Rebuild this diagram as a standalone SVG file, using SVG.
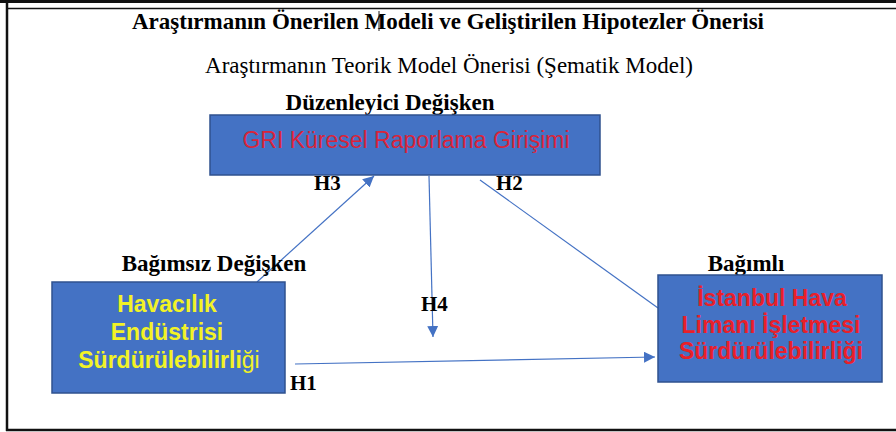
<svg xmlns="http://www.w3.org/2000/svg" width="896" height="432" viewBox="0 0 896 432">
  <defs>
    <marker id="ah" viewBox="0 0 10 10" refX="10" refY="5" markerWidth="11" markerHeight="11" markerUnits="userSpaceOnUse" orient="auto">
      <path d="M0,0 L10,5 L0,10 z" fill="#4472C4"/>
    </marker>
    <style>
      .serif { font-family: "Liberation Serif", "Times New Roman", serif; fill: #000; }
      .b { font-weight: bold; }
      .box { fill: #4472C4; stroke: #2F528F; stroke-width: 1.5; }
      .sans { font-family: "Liberation Sans", Arial, sans-serif; }
      .conn { stroke: #4472C4; stroke-width: 1.2; fill: none; }
      .h { font-family: "Liberation Serif", "Times New Roman", serif; font-weight: bold; font-size: 21px; fill: #000; }
    </style>
  </defs>
  <rect x="0" y="0" width="896" height="432" fill="#fff"/>
  <!-- frame -->
  <g id="frame" fill="none" stroke="#111">
    <line x1="0" y1="1.5" x2="896" y2="1.5" stroke-width="3"/>
    <line x1="7" y1="8.5" x2="896" y2="8.5" stroke-width="1.5"/>
    <line x1="7" y1="0" x2="7" y2="431" stroke-width="2.5"/>
    <line x1="6" y1="430" x2="896" y2="430" stroke-width="2.5"/>
  </g>
  <!-- titles -->
  <g id="titles">
    <text class="serif b" x="448" y="29" font-size="23" text-anchor="middle">Araştırmanın Önerilen Modeli ve Geliştirilen Hipotezler Önerisi</text>
    <line x1="379" y1="11" x2="379" y2="31" stroke="#222" stroke-width="1"/>
    <text class="serif" x="449" y="73" font-size="23" text-anchor="middle">Araştırmanın Teorik Model Önerisi (Şematik Model)</text>
  </g>
  <!-- connectors -->
  <g id="connectors">
    <line id="H3-edge" class="conn" x1="257" y1="282" x2="374" y2="176" marker-end="url(#ah)"/>
    <line id="H4-edge" class="conn" x1="429" y1="176" x2="433" y2="337" marker-end="url(#ah)"/>
    <line id="H2-edge" class="conn" x1="480" y1="180" x2="658" y2="308"/>
    <line id="H1-edge" class="conn" x1="295" y1="364" x2="655" y2="357" marker-end="url(#ah)"/>
    <text class="h" x="314" y="190">H3</text>
    <text class="h" x="496" y="190">H2</text>
    <text class="h" x="421" y="311">H4</text>
    <text class="h" x="290" y="390">H1</text>
  </g>
  <!-- moderator node -->
  <g id="node-gri">
    <text class="serif b" x="390" y="110" font-size="23" text-anchor="middle">Düzenleyici Değişken</text>
    <rect class="box" x="210" y="115" width="390" height="60"/>
    <text class="sans" x="406" y="148" font-size="23" fill="#D9243A" text-anchor="middle">GRI Küresel Raporlama Girişimi</text>
  </g>
  <!-- independent node -->
  <g id="node-havacilik">
    <text class="serif b" x="214" y="271" font-size="23" text-anchor="middle">Bağımsız Değişken</text>
    <rect class="box" x="52" y="282" width="233" height="111"/>
    <g class="sans b" font-size="23" fill="#F2F226" text-anchor="middle">
      <text x="167" y="312">Havacılık</text>
      <text x="167" y="340">Endüstrisi</text>
      <text x="169" y="368">Sürdürülebilirli<tspan font-weight="normal">ği</tspan></text>
    </g>
  </g>
  <!-- dependent node -->
  <g id="node-istanbul">
    <text class="serif b" x="746" y="271" font-size="23" text-anchor="middle">Bağımlı</text>
    <rect class="box" x="658" y="275" width="224" height="107"/>
    <g class="sans b" font-size="23" fill="#E8202A" text-anchor="middle">
      <text x="772" y="306">İstanbul Hava</text>
      <text x="771" y="333">Limanı İşletmesi</text>
      <text x="771" y="359">Sürdürülebilirliği</text>
    </g>
  </g>
</svg>
